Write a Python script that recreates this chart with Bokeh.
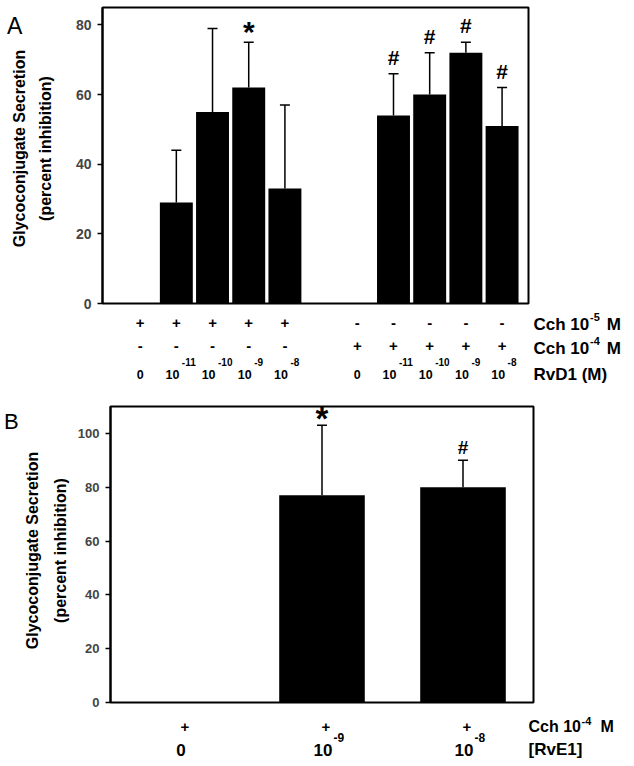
import math
from bokeh.plotting import figure
from bokeh.models import (ColumnDataSource, LabelSet, Whisker, TeeHead,
                          FixedTicker, Range1d)
from bokeh.layouts import column, row
from bokeh.embed import file_html
from bokeh.resources import INLINE
from bokeh.core.properties import value

FONT = "Liberation Sans"

# ---------------- data: panel A (RvD1) ----------------
a_cch5 = [["+", "+", "+", "+", "+"], ["-", "-", "-", "-", "-"]]
a_cch4 = [["-", "-", "-", "-", "-"], ["+", "+", "+", "+", "+"]]
a_rvd1_exp = [None, "-11", "-10", "-9", "-8"]
a_mean = [[0, 29, 55, 62, 33], [0, 54, 60, 72, 51]]
a_err = [[0, 15, 24, 13, 24], [0, 12, 12, 3, 11]]
a_sig = [["", "", "", "*", ""], ["", "#", "#", "#", "#"]]
a_yticks = [0, 20, 40, 60, 80]

# ---------------- data: panel B (RvE1) ----------------
b_cch4 = ["+", "+", "+"]
b_rve1_exp = [None, "-9", "-8"]
b_mean = [0, 77, 80]
b_err = [0, 26, 10]
b_sig = ["", "*", "#"]
b_yticks = [0, 20, 40, 60, 80, 100]

TOTAL_W = 630
LEFT_W = 70


def canvas(width, height, x_range, y_range):
    f = figure(width=width, height=height, x_range=x_range, y_range=y_range,
               output_backend="svg", toolbar_location=None, min_border=0,
               x_axis_type=None, y_axis_type=None, frame_align=False)
    f.grid.visible = False
    f.outline_line_color = None
    f.background_fill_color = "white"
    f.border_fill_color = "white"
    return f


def txt(f, xs, ys, texts, size, align="center", dx=0, style="bold", angle=0.0):
    f.text(x=list(xs), y=list(ys), text=list(texts), x_offset=dx,
           text_font=value(FONT), text_font_size=size, text_font_style=style,
           text_align=align, text_baseline="alphabetic", text_color="black",
           angle=angle)


def main_fig(width, height, xr, yr, left, right, top, bottom, yticks, tick_size):
    p = figure(width=width, height=height, x_range=xr, y_range=yr,
               output_backend="svg", toolbar_location=None,
               min_border_left=left, min_border_right=right,
               min_border_top=top, min_border_bottom=bottom,
               frame_align=False)
    p.xaxis.visible = False
    p.grid.visible = False
    p.outline_line_color = "black"
    p.outline_line_width = 2
    p.yaxis.ticker = FixedTicker(ticks=yticks)
    p.yaxis.axis_line_width = 2
    p.yaxis.minor_tick_line_color = None
    p.yaxis.major_tick_in = 0
    p.yaxis.major_tick_out = 5
    p.yaxis.major_tick_line_width = 1.5
    p.yaxis.major_label_standoff = 6
    p.yaxis.major_label_text_font = FONT
    p.yaxis.major_label_text_font_style = "bold"
    p.yaxis.major_label_text_font_size = tick_size
    p.background_fill_color = "white"
    p.border_fill_color = "white"
    return p


def bars(p, xs, means, errs, sigs, width, star_size, star_dy, hash_size, hash_dy):
    p.vbar(x=xs, top=means, width=width, fill_color="black", line_color=None)
    w = [(x, m, m + e) for x, m, e in zip(xs, means, errs) if e > 0]
    src = ColumnDataSource(dict(x=[v[0] for v in w], lower=[v[1] for v in w],
                                upper=[v[2] for v in w]))
    p.add_layout(Whisker(source=src, base="x", lower="lower", upper="upper",
                         lower_head=None,
                         upper_head=TeeHead(size=10, line_width=1.5, line_color="black"),
                         line_width=1.5, line_color="black", level="overlay"))
    for mark, size, dy in (("*", star_size, star_dy), ("#", hash_size, hash_dy)):
        pts = [(x, m + e) for x, m, e, s in zip(xs, means, errs, sigs) if s == mark]
        if not pts:
            continue
        s = ColumnDataSource(dict(x=[v[0] for v in pts], y=[v[1] for v in pts],
                                  text=[mark] * len(pts)))
        p.add_layout(LabelSet(source=s, x="x", y="y", text="text", y_offset=dy,
                              text_font=value(FONT), text_font_size=size,
                              text_font_style="bold", text_align="center",
                              text_baseline="alphabetic", text_color="black"))


# ================= Panel A =================
n = len(a_rvd1_exp)
ax, am, ae, asig, a5, a4, aexp = [], [], [], [], [], [], []
for g in range(len(a_mean)):
    for i in range(n):
        ax.append(g * (n + 1) + i)
        am.append(a_mean[g][i])
        ae.append(a_err[g][i])
        asig.append(a_sig[g][i])
        a5.append(a_cch5[g][i])
        a4.append(a_cch4[g][i])
        aexp.append(a_rvd1_exp[i])

xa0, xa1 = -1.04, 10.73
A_H = 311
A_FL = 102          # frame left (page px)
A_FW = 426          # frame width
pA = main_fig(TOTAL_W - LEFT_W, A_H, Range1d(xa0, xa1), Range1d(0, 85),
              A_FL - LEFT_W, TOTAL_W - A_FL - A_FW, 7, 8, a_yticks, "14px")
bars(pA, ax, am, ae, asig, 0.91, "30px", 0, "21px", 9)

leftA = canvas(LEFT_W, A_H, Range1d(0, LEFT_W), Range1d(A_H, 0))
txt(leftA, [6.5], [25], ["A"], "23px", align="left", style="normal")
txt(leftA, [18.5], [148], ["Glycoconjugate Secretion"], "16px", angle=math.pi / 2)
txt(leftA, [45], [148], ["(percent inhibition)"], "16px", angle=math.pi / 2)

# label strip below panel A: x shares panel A scale, y = px below the axis
ppu_a = A_FW / (xa1 - xa0)
BA_H = 87
A_AXIS = 303
belowA = canvas(TOTAL_W, BA_H,
                Range1d(xa0 - A_FL / ppu_a, xa0 + (TOTAL_W - A_FL) / ppu_a),
                Range1d(A_H - A_AXIS + BA_H, A_H - A_AXIS))
txt(belowA, ax, [19] * len(ax), a5, "15px")
txt(belowA, ax, [42] * len(ax), a4, "15px")
x0 = [x for x, e in zip(ax, aexp) if e is None]
xe = [x for x, e in zip(ax, aexp) if e is not None]
ee = [e for e in aexp if e is not None]
txt(belowA, x0, [71] * len(x0), ["0"] * len(x0), "12.5px")
txt(belowA, xe, [71] * len(xe), ["10"] * len(xe), "12.5px", align="right", dx=3)
txt(belowA, xe, [58.3] * len(xe), ee, "10px", align="left", dx=5.5)
txt(belowA, [xa1], [21.4], ["Cch 10"], "17px", align="left", dx=5)
txt(belowA, [xa1], [13.7], ["-5"], "11px", align="left", dx=61.6)
txt(belowA, [xa1], [21.4], ["M"], "17px", align="left", dx=78.3)
txt(belowA, [xa1], [44.8], ["Cch 10"], "17px", align="left", dx=5)
txt(belowA, [xa1], [37], ["-4"], "11px", align="left", dx=61.6)
txt(belowA, [xa1], [44.8], ["M"], "17px", align="left", dx=78.3)
txt(belowA, [xa1], [71], ["RvD1 (M)"], "17px", align="left", dx=5)

# ================= Panel B =================
bx = list(range(len(b_mean)))
xb0, xb1 = -0.5, 2.5
B_H = 312
B_FL = 110
B_FW = 423
pB = main_fig(TOTAL_W - LEFT_W, B_H, Range1d(xb0, xb1), Range1d(0, 110),
              B_FL - LEFT_W, TOTAL_W - B_FL - B_FW, 8, 8, b_yticks, "13px")
bars(pB, bx, b_mean, b_err, b_sig, 0.607, "33px", -4.5, "19px", 6)

leftB = canvas(LEFT_W, B_H, Range1d(0, LEFT_W), Range1d(B_H, 0))
txt(leftB, [3.5], [23], ["B"], "22px", align="left", style="normal")
txt(leftB, [31.5], [152], ["Glycoconjugate Secretion"], "16px", angle=math.pi / 2)
txt(leftB, [60], [152], ["(percent inhibition)"], "16px", angle=math.pi / 2)

ppu_b = B_FW / (xb1 - xb0)
BB_H = 54
B_AXIS = 304
belowB = canvas(TOTAL_W, BB_H,
                Range1d(xb0 - B_FL / ppu_b, xb0 + (TOTAL_W - B_FL) / ppu_b),
                Range1d(B_H - B_AXIS + BB_H, B_H - B_AXIS))
txt(belowB, bx, [24.4] * len(bx), b_cch4, "15px", dx=4)
xb_0 = [x for x, e in zip(bx, b_rve1_exp) if e is None]
xb_e = [x for x, e in zip(bx, b_rve1_exp) if e is not None]
eb = [e for e in b_rve1_exp if e is not None]
txt(belowB, xb_0, [47.1] * len(xb_0), ["0"] * len(xb_0), "17px")
txt(belowB, xb_e, [47.1] * len(xb_e), ["10"] * len(xb_e), "17px", align="right", dx=10.5)
txt(belowB, xb_e, [35] * len(xb_e), eb, "12px", align="left", dx=11.5)
txt(belowB, [xb1], [24.4], ["Cch 10"], "16px", align="left", dx=-5)
txt(belowB, [xb1], [18.7], ["-4"], "11px", align="left", dx=48)
txt(belowB, [xb1], [24.4], ["M"], "16px", align="left", dx=67)
txt(belowB, [xb1], [47.1], ["[RvE1]"], "17px", align="left", dx=-5)

layout = column(row(leftA, pA), belowA, row(leftB, pB), belowB)
open("out.html", "w").write(file_html(layout, INLINE))
